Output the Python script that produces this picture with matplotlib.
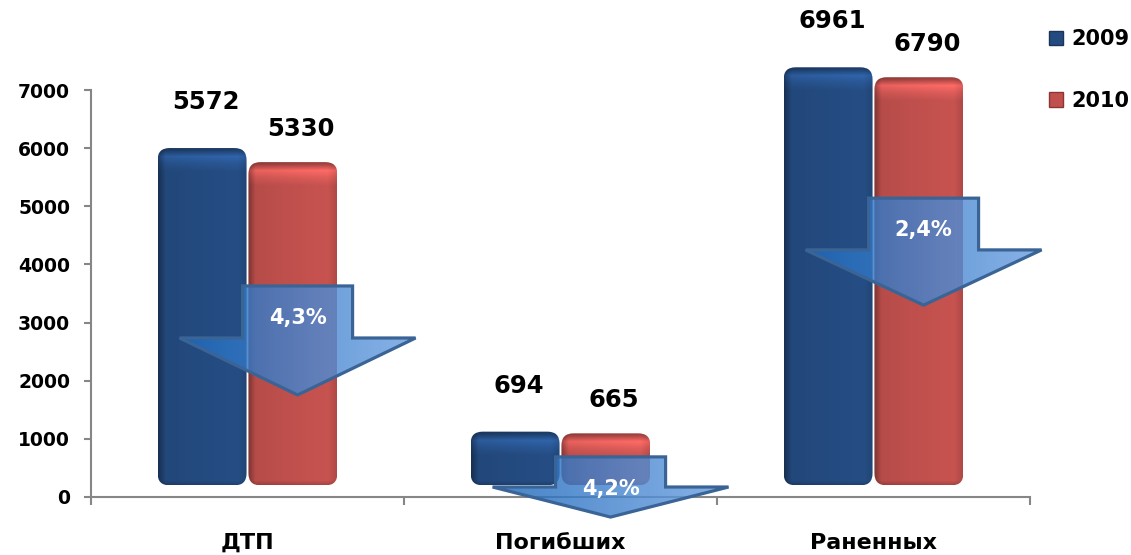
import numpy as np
import matplotlib.pyplot as plt
from matplotlib.patches import FancyBboxPatch, Polygon, Patch
from matplotlib.colors import to_rgb

# данные
categories = ['ДТП', 'Погибших', 'Раненных']
years = ['2009', '2010']
values_2009 = [5572, 694, 6961]
values_2010 = [5330, 665, 6790]
pct_labels = ['4,3%', '4,2%', '2,4%']
y_ticks = [0, 1000, 2000, 3000, 4000, 5000, 6000, 7000]

# стрелки (оформление, в единицах оси y)
arrow_top = [3630, 690, 5140]
arrow_base = [2735, 172, 4250]
arrow_tip = [1755, -345, 3300]
pct_y = [3080, 130, 4590]

blue = '#244b80'
red = '#c0504d'

W, H = 1131, 555
PX_X = 313.0          # пикселей на одну категорию
PX_Y = 58.14 / 1000   # пикселей на единицу значения

fig = plt.figure(figsize=(W / 100, H / 100), dpi=100)
ax = fig.add_axes([0, 0, 1, 1])
ax.patch.set_alpha(0)

x = np.arange(len(categories))
bw = 89 / PX_X
floor = 200   # "пол" объемной диаграммы
lift = 230

bars09 = ax.bar(x - bw / 2 - 0.003, np.array(values_2009) + lift, bw, bottom=floor)
bars10 = ax.bar(x + bw / 2 + 0.003, np.array(values_2010) + lift, bw, bottom=floor)


def shaded_bar(rect, base):
    x0, y0 = rect.get_x(), rect.get_y()
    w, h = rect.get_width(), rect.get_height()
    rect.set_visible(False)
    patch = FancyBboxPatch((x0, y0), w, h,
                           boxstyle='round,pad=0,rounding_size=%f' % (12 / PX_X),
                           mutation_aspect=PX_X / PX_Y,
                           fc='none', ec='none')
    ax.add_patch(patch)
    nx = 80
    hpx = h * PX_Y
    ny = int(hpx) + 2
    t = np.linspace(0, 1, nx)
    hx = np.interp(t, [0, 0.08, 0.5, 0.9, 1], [0.65, 0.95, 1.0, 1.04, 0.92])
    d = np.linspace(0, hpx, ny)
    vy = np.interp(d, [0, 3, 9, 16, 24, hpx - 4, hpx], [0.72, 0.85, 1.28, 1.12, 1.0, 1.0, 0.85])
    rgb = np.array(to_rgb(base))
    img = np.clip(rgb[None, None, :] * hx[None, :, None] * vy[:, None, None], 0, 1)
    im = ax.imshow(img, extent=[x0, x0 + w, y0, y0 + h], aspect='auto',
                   interpolation='bilinear', zorder=2)
    im.set_clip_path(patch)


for r in bars09:
    shaded_bar(r, blue)
for r in bars10:
    shaded_bar(r, red)

# подписи значений
for r, v in zip(bars09, values_2009):
    ax.annotate(str(v), (r.get_x() + r.get_width() / 2, r.get_y() + r.get_height()),
                xytext=(3, 33), textcoords='offset points', ha='center', va='center',
                fontsize=17.5, fontweight='bold')
for r, v in zip(bars10, values_2010):
    ax.annotate(str(v), (r.get_x() + r.get_width() / 2, r.get_y() + r.get_height()),
                xytext=(6, 24), textcoords='offset points', ha='center', va='center',
                fontsize=17.5, fontweight='bold')

# стрелки снижения
sw = 55 / PX_X
hw = 118 / PX_X
c_left = np.array(to_rgb('#1d68ba'))
c_right = np.array(to_rgb('#6da1e2'))
for i in range(len(categories)):
    cx = x[i] + 0.16
    top, base, tip = arrow_top[i], arrow_base[i], arrow_tip[i]
    verts = [(cx - sw, top), (cx + sw, top), (cx + sw, base), (cx + hw, base),
             (cx, tip), (cx - hw, base), (cx - sw, base)]
    poly = Polygon(verts, closed=True, fc='none', ec='none')
    ax.add_patch(poly)
    t = np.linspace(0, 1, 100)
    grad = c_left[None, :] * (1 - t[:, None]) + c_right[None, :] * t[:, None]
    img = np.concatenate([grad, np.full((100, 1), 0.82)], axis=1)[None, :, :].repeat(2, axis=0)
    im = ax.imshow(img, extent=[cx - hw, cx + hw, tip, top], aspect='auto',
                   interpolation='bilinear', zorder=3)
    im.set_clip_path(poly)
    ax.add_patch(Polygon(verts, closed=True, fc='none', ec='#3a6496', lw=2.3,
                         joinstyle='miter', zorder=4))
    ax.text(cx, pct_y[i], pct_labels[i], color='white', fontsize=15,
            fontweight='bold', ha='center', va='center', zorder=5)

# оси
ax.set_xlim(-0.5 - 91 / PX_X, 2.5 + (W - 1030) / PX_X)
ax.set_ylim(-58 / PX_Y, 497 / PX_Y)
for s in ['top', 'right']:
    ax.spines[s].set_visible(False)
ax.spines['left'].set_position(('data', -0.5))
ax.spines['bottom'].set_position(('data', 0))
ax.spines['left'].set_bounds(0, 7000)
ax.spines['bottom'].set_bounds(-0.5, 2.5)
for s in ['left', 'bottom']:
    ax.spines[s].set_color('#868686')
    ax.spines[s].set_linewidth(1.5)

ax.set_yticks(y_ticks)
ax.set_yticklabels([str(v) for v in y_ticks], fontsize=13.5, fontweight='bold')
ax.tick_params(axis='y', length=5, width=1.5, color='#868686', pad=10)

ax.set_xticks(x)
ax.set_xticklabels(categories, fontsize=16, fontweight='bold')
ax.tick_params(axis='x', which='major', length=0, pad=26)
ax.set_xticks([-0.5, 0.5, 1.5, 2.5], minor=True)
ax.tick_params(axis='x', which='minor', length=6, width=1.5, color='#868686')

handles = [Patch(fc=blue, ec='#1a3558'), Patch(fc=red, ec='#8c3533')]
fig.legend(handles, years, loc='center left', bbox_to_anchor=(1030 / W, 1 - 70 / H),
           frameon=False, prop={'weight': 'bold', 'size': 15},
           handlelength=0.7, handleheight=0.7, handletextpad=0.4, labelspacing=2.0)

fig.savefig('out.png', dpi=100)
